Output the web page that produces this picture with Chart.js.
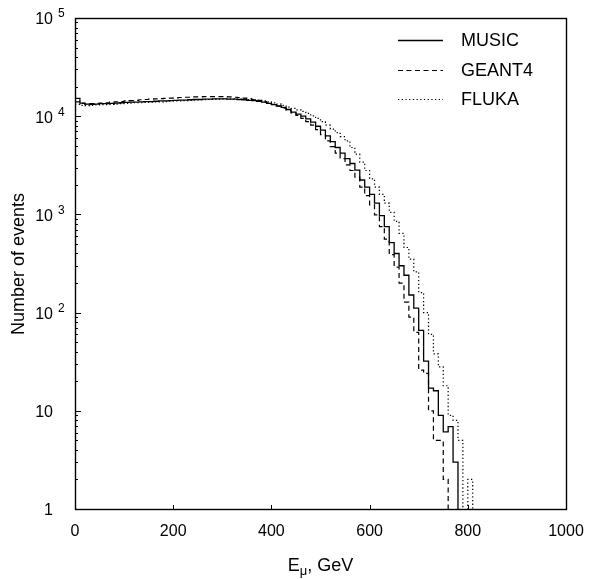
<!DOCTYPE html>
<html><head><meta charset="utf-8">
<script src="https://cdn.jsdelivr.net/npm/chart.js@4"></script>
<style>html,body{margin:0;padding:0;background:#fff;}canvas{display:block;}</style>
</head><body>
<canvas id="c" width="593" height="579"></canvas>
<script>
// Bin lower edges (GeV), 10 GeV bins
const binEdges = [0,10,20,30,40,50,60,70,80,90,100,110,120,130,140,150,160,170,180,190,200,210,220,230,240,250,260,270,280,290,300,310,320,330,340,350,360,370,380,390,400,410,420,430,440,450,460,470,480,490,500,510,520,530,540,550,560,570,580,590,600,610,620,630,640,650,660,670,680,690,700,710,720,730,740,750,760,770,780,790,800,810];

const musicCounts = [15200,13600,13300,13200,13300,13400,13400,13500,13600,13700,
 13800,13900,13900,14000,14100,14100,14200,14300,14300,14400,
 14500,14600,14600,14700,14800,14800,14900,14900,15000,15000,
 15000,14900,14900,14800,14700,14500,14400,14200,13900,13500,
 13100,12700,12300,11700,11000,10500,10000,9400,8700,7900,
 7200,6300,5500,4800,4200,3700,3300,2830,2240,1900,
 1600,1300,970,750,515,400,300,240,151,111,
 66,32,17,16,9,6.1,6.9,3,0,null,null,null];

const geant4Counts = [14000,13500,13300,13400,13500,13600,13700,13900,14000,14100,
 14300,14400,14500,14700,14800,14900,15000,15100,15200,15300,
 15400,15500,15600,15600,15700,15700,15800,15800,15800,15800,
 15800,15700,15600,15500,15300,15100,14800,14500,14100,13700,
 13200,12700,12100,11500,10800,10200,9500,8800,8100,7300,
 6500,5600,4900,4200,3700,3200,2800,2400,1900,1550,
 1250,990,750,560,390,291,200,128,90,63,
 26,24,10,5,5,2,0,null,null,null,null,null];

const flukaCounts = [13200,12900,12800,12900,13000,13100,13100,13200,13300,13400,
 13500,13600,13700,13700,13800,13900,14000,14000,14100,14200,
 14300,14300,14400,14500,14600,14700,14700,14800,14900,14900,
 15000,15000,15000,14900,14900,14800,14700,14500,14300,14000,
 13700,13300,12900,12400,12000,11600,11200,10700,10100,9500,
 8800,8100,7400,6800,6200,5600,4800,4100,3400,2800,
 2300,1900,1600,1300,1050,850,640,460,350,260,
 160,100,60,38,28,18,9,8,5,0,2,0];

const seriesNames = ['MUSIC','GEANT4','FLUKA'];
const xTickLabels = [0,200,400,600,800,1000];
const yMajorTicks = [1,10,100,1000,10000,100000];

const FONT = "'Liberation Sans', Arial, sans-serif";
// empty bins (0 counts) cannot be shown on a log axis: draw them just below the axis floor (clipped)
const EMPTY_BIN_FLOOR = 0.5;

function toPoints(counts){
  return binEdges.map((e,i)=>({x:e, y:(counts[i]===0 ? EMPTY_BIN_FLOOR : counts[i])}));
}

const decor = {
  id:'decor',
  afterDatasetsDraw(chart){
    const {ctx, chartArea:a, scales:{x,y}} = chart;
    ctx.save();
    ctx.strokeStyle='#000'; ctx.fillStyle='#000';
    // frame
    ctx.lineWidth=1.4;
    ctx.strokeRect(Math.round(a.left)+0.5, Math.round(a.top)+0.5, Math.round(a.right-a.left), Math.round(a.bottom-a.top));
    // y ticks (inward) major + minor
    ctx.lineWidth=1;
    yMajorTicks.forEach((v)=>{
      for(let m=1;m<=9;m++){
        const val=v*m;
        if(val>yMajorTicks[yMajorTicks.length-1]) break;
        const py=Math.round(y.getPixelForValue(val))+0.5;
        ctx.beginPath(); ctx.moveTo(a.left, py); ctx.lineTo(a.left+(m===1?6:3), py); ctx.stroke();
      }
    });
    // x ticks (inward)
    xTickLabels.forEach(v=>{
      const px=Math.round(x.getPixelForValue(v))+0.5;
      ctx.beginPath(); ctx.moveTo(px, a.bottom); ctx.lineTo(px, a.bottom-4); ctx.stroke();
    });
    // y labels with superscript
    yMajorTicks.forEach(v=>{
      const py=y.getPixelForValue(v);
      const e=Math.round(Math.log10(v));
      ctx.font='16px '+FONT; ctx.textAlign='right'; ctx.textBaseline='middle';
      ctx.fillText(e===0?'1':'10', 53, py+2);
      if(e>=2){
        ctx.font='12px '+FONT; ctx.textAlign='left';
        ctx.fillText(String(e), 58, py-4);
      }
    });
    // y title
    ctx.save();
    ctx.translate(19, 264);
    ctx.rotate(-Math.PI/2);
    ctx.font='18px '+FONT; ctx.textAlign='center'; ctx.textBaseline='middle';
    ctx.fillText('Number of events',0,0);
    ctx.restore();
    // x title: E_mu, GeV
    ctx.textBaseline='alphabetic'; ctx.textAlign='left';
    const f1='18px '+FONT, f2='13px '+FONT;
    ctx.font=f1; const wE=ctx.measureText('E').width; const wR=ctx.measureText(', GeV').width;
    ctx.font=f2; const wM=ctx.measureText('\u03bc').width;
    const total=wE+wM+wR; let sx=(a.left+a.right)/2-total/2; const by=571;
    ctx.font=f1; ctx.fillText('E',sx,by); sx+=wE;
    ctx.font=f2; ctx.fillText('\u03bc',sx,by+4); sx+=wM;
    ctx.font=f1; ctx.fillText(', GeV',sx,by);
    // legend
    const ly=[40,70,99];
    chart.data.datasets.forEach((ds,i)=>{
      ctx.save();
      ctx.lineWidth=ds.borderWidth; ctx.strokeStyle=ds.borderColor;
      ctx.setLineDash(ds.borderDash||[]);
      ctx.beginPath(); ctx.moveTo(398, ly[i]+0.5); ctx.lineTo(443, ly[i]+0.5); ctx.stroke();
      ctx.restore();
      ctx.font='18px '+FONT; ctx.textAlign='left'; ctx.textBaseline='middle';
      ctx.fillText(ds.label, 461, ly[i]+1);
    });
    ctx.restore();
  }
};

new Chart(document.getElementById('c'), {
  type:'line',
  data:{
    datasets:[
      {label:seriesNames[0], data:toPoints(musicCounts), borderColor:'#000', borderWidth:1.3, stepped:'before', pointRadius:0, fill:false, spanGaps:false, clip:0},
      {label:seriesNames[1], data:toPoints(geant4Counts), borderColor:'#000', borderWidth:1.2, borderDash:[5,3.5], stepped:'before', pointRadius:0, fill:false, spanGaps:false, clip:0},
      {label:seriesNames[2], data:toPoints(flukaCounts), borderColor:'#000', borderWidth:1.2, borderDash:[1.3,2.4], stepped:'before', pointRadius:0, fill:false, spanGaps:false, clip:0}
    ]
  },
  options:{
    responsive:false, animation:false, devicePixelRatio:1,
    layout:{padding:{left:0, top:18, right:27, bottom:0}},
    plugins:{legend:{display:false}, tooltip:{enabled:false}},
    scales:{
      x:{type:'linear', min:0, max:1000,
         grid:{display:false}, border:{display:false},
         afterBuildTicks:(s)=>{ s.ticks = xTickLabels.map(v=>({value:v})); },
         afterFit:(s)=>{ s.height=70; },
         ticks:{font:{family:FONT,size:16}, color:'#000', padding:5, maxRotation:0, autoSkip:false,
                callback:(v)=>String(v)}
      },
      y:{type:'logarithmic', min:1, max:100000,
         grid:{display:false}, border:{display:false},
         afterFit:(s)=>{ s.width=75; },
         ticks:{display:false}
      }
    }
  },
  plugins:[decor]
});
</script>
</body></html>
